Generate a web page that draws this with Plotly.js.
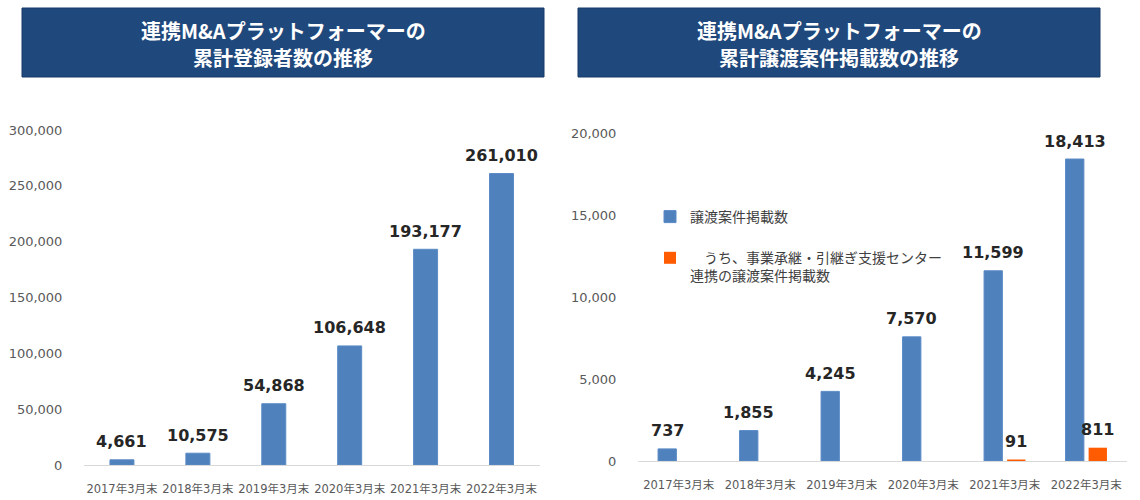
<!DOCTYPE html>
<html><head><meta charset="utf-8">
<script src="https://cdn.plot.ly/plotly-3.0.1.min.js"></script>
<style>html,body{margin:0;padding:0;background:#fff}#chart{width:1140px;height:500px}</style>
</head><body><div id="chart"></div>
<script>
const categories = ["2017年3月末","2018年3月末","2019年3月末","2020年3月末","2021年3月末","2022年3月末"];
const registrants = [4661, 10575, 54868, 106648, 193177, 261010];
const listings = [737, 1855, 4245, 7570, 11599, 18413];
const centerListings = [null, null, null, null, 91, 811];
const leftTitleLines = ["連携M&Aプラットフォーマーの", "累計登録者数の推移"];
const rightTitleLines = ["連携M&Aプラットフォーマーの", "累計譲渡案件掲載数の推移"];
const leftTicks = [0, 50000, 100000, 150000, 200000, 250000, 300000];
const rightTicks = [0, 5000, 10000, 15000, 20000];
const legendNames = ["譲渡案件掲載数", "　うち、事業承継・引継ぎ支援センター<br>連携の譲渡案件掲載数"];

const fmt = v => v.toLocaleString("en-US");
const BLUE = "#4F81BD", ORANGE = "#FF5B00";
const numFont = {family: "DejaVu Sans, Noto Sans CJK JP", size: 16, color: "#262626"};

const traces = [
  {type: "bar", x: categories, y: registrants, xaxis: "x", yaxis: "y", width: 0.316, offset: -0.158,
   marker: {color: BLUE, line: {color: "#5B8BC6", width: 1}}, showlegend: false, hoverinfo: "x+y"},
  {type: "bar", x: categories, y: listings, xaxis: "x2", yaxis: "y2", name: legendNames[0], legendgroup: "a",
   width: 0.225, offset: -0.254,
   marker: {color: BLUE, line: {color: "#5B8BC6", width: 1}}, hoverinfo: "x+y"},
  {type: "bar", x: categories, y: centerListings, xaxis: "x2", yaxis: "y2", name: legendNames[1], legendgroup: "b",
   width: 0.225, offset: 0.029,
   marker: {color: ORANGE}, hoverinfo: "x+y"}
];

const valueLabels = [];
function addLabels(xs, ys, xref, yref, xshift) {
  xs.forEach((c, i) => {
    const v = ys[i];
    if (v == null) return;
    valueLabels.push({xref: xref, yref: yref, x: c, y: v, xshift: xshift, yshift: 18,
      xanchor: "center", yanchor: "middle", showarrow: false,
      text: "<b>" + fmt(v) + "</b>", font: numFont});
  });
}
addLabels(categories, registrants, "x", "y", 0);
addLabels(categories, listings, "x2", "y2", -11.5);
addLabels(categories, centerListings, "x2", "y2", 11.5);

const tickFontY = {family: "DejaVu Sans", size: 13, color: "#595959"};
const tickFontX = {family: "DejaVu Sans, Noto Sans CJK JP", size: 11.5, color: "#595959"};
const xBase = {showgrid: false, zeroline: false, showline: true, linecolor: "#D9D9D9", linewidth: 1,
  ticks: "outside", ticklen: 13, tickcolor: "rgba(0,0,0,0)", tickfont: tickFontX, tickangle: 0, fixedrange: true};
const yBase = {showgrid: false, zeroline: false, showline: false, ticks: "outside", ticklen: 18,
  tickcolor: "rgba(0,0,0,0)", tickfont: tickFontY, tickformat: ",d", fixedrange: true};

const W = 1140, H = 500;
const px = v => v / W, py = v => 1 - v / H;

const titleAnn = (x, y, t) => ({xref: "paper", yref: "paper", x: px(x), y: py(y), xanchor: "center", yanchor: "middle",
  showarrow: false, text: "<b>" + t + "</b>", font: {family: "Noto Sans CJK JP", size: 20, color: "#ffffff"}});

const layout = {
  width: W, height: H, margin: {l: 0, r: 0, t: 0, b: 0},
  paper_bgcolor: "#fff", plot_bgcolor: "#fff",
  font: {family: "Noto Sans CJK JP, DejaVu Sans", color: "#404040"},
  barmode: "overlay",
  xaxis: Object.assign({}, xBase, {domain: [px(84), px(540)], anchor: "y"}),
  yaxis: Object.assign({}, yBase, {domain: [py(465), py(130)], range: [0, 300000], tickvals: leftTicks, anchor: "x"}),
  xaxis2: Object.assign({}, xBase, {domain: [px(638), px(1127)], anchor: "y2"}),
  yaxis2: Object.assign({}, yBase, {domain: [py(461), py(133)], range: [0, 20000], tickvals: rightTicks, anchor: "x2"}),
  showlegend: true,
  legend: {x: px(650), y: py(201), xanchor: "left", yanchor: "top", traceorder: "grouped", tracegroupgap: 20,
    valign: "top", bgcolor: "rgba(0,0,0,0)", itemwidth: 30,
    font: {family: "Noto Sans CJK JP, DejaVu Sans", size: 14, color: "#404040"}},
  shapes: [
    {type: "rect", xref: "paper", yref: "paper", x0: px(22), x1: px(544), y0: py(77), y1: py(8),
     fillcolor: "#1F487C", line: {color: "#173A66", width: 1}},
    {type: "rect", xref: "paper", yref: "paper", x0: px(578), x1: px(1100), y0: py(77), y1: py(8),
     fillcolor: "#1F487C", line: {color: "#173A66", width: 1}}
  ],
  annotations: [
    titleAnn(283, 30, leftTitleLines[0]), titleAnn(283, 58, leftTitleLines[1]),
    titleAnn(839, 30, rightTitleLines[0]), titleAnn(839, 58, rightTitleLines[1])
  ].concat(valueLabels)
};

Plotly.newPlot("chart", traces, layout, {displayModeBar: false, staticPlot: true});
</script></body></html>
